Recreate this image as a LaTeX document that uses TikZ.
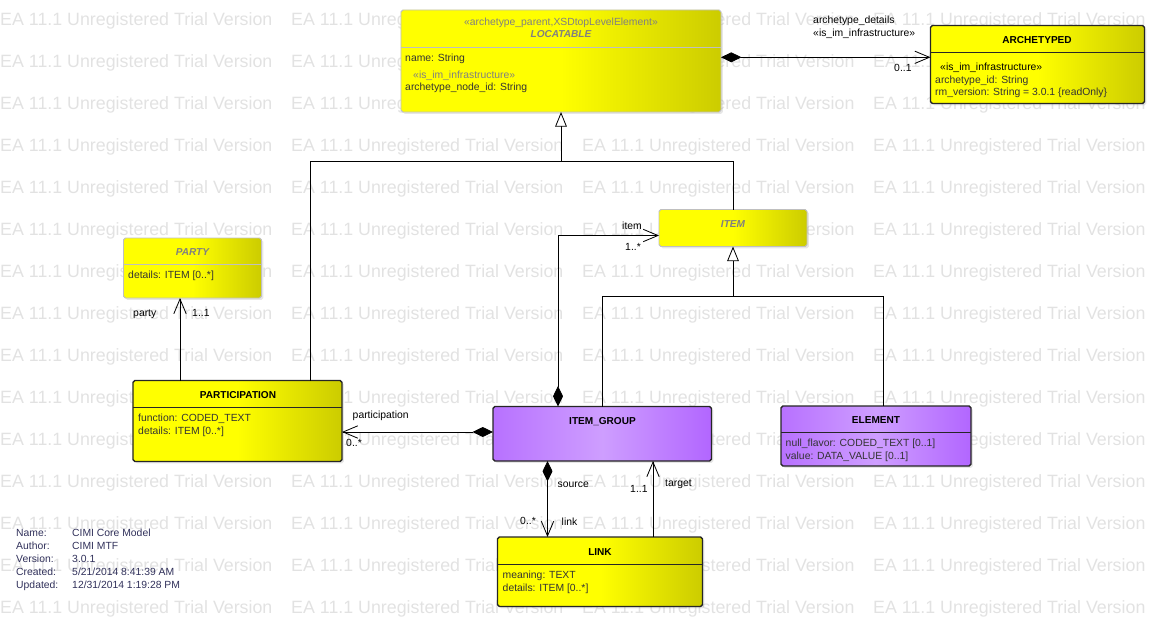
\documentclass[tikz,border=0pt]{standalone}
\usepackage{fontspec}
\setmainfont{Liberation Sans}
\usetikzlibrary{arrows.meta, shadows, calc}
\definecolor{eayellow}{RGB}{255,255,0}
\definecolor{eaolive}{RGB}{204,204,0}
\definecolor{eaviolet}{RGB}{206,158,255}
\definecolor{eavioletdark}{RGB}{178,102,255}
\definecolor{eagray}{RGB}{128,128,128}
\definecolor{eamark}{RGB}{226,226,226}
\definecolor{eanavy}{RGB}{48,48,90}
\newcommand{\umlfont}{\fontsize{8.85}{10}\selectfont}
\newcommand{\umltitlefont}{\fontsize{8.6}{10}\selectfont}
\newcommand{\markfont}{\fontsize{15.2}{18}\selectfont}

\tikzset{
  umlbox/.style={rectangle, inner sep=0pt, outer sep=0pt, rounded corners=1.6pt,
    drop shadow={shadow xshift=1.6pt, shadow yshift=-1.6pt, opacity=0.2}},
  yellowbox/.style={umlbox, left color=eayellow, right color=eaolive, middle color=eayellow},
  violetbox/.style={umlbox, left color=eavioletdark!80!eaviolet, right color=eavioletdark, middle color=eaviolet},
  concrete/.style={draw=black!85, line width=1.2pt},
  abstractc/.style={draw=black!25, line width=0.8pt},
  title/.style={anchor=base, inner sep=0pt, font=\umltitlefont\bfseries},
  abstitle/.style={anchor=base, inner sep=0pt, font=\umltitlefont\bfseries\itshape, text=eagray},
  stereo/.style={anchor=base, inner sep=0pt, font=\umlfont, text=eagray},
  attr/.style={anchor=base west, inner sep=0pt, font=\umlfont, text=black!80},
  lbl/.style={anchor=base west, inner sep=0pt, font=\umlfont},
  info/.style={anchor=base west, inner sep=0pt, font=\umlfont, text=eanavy},
  trialmark/.style={anchor=base west, inner sep=0pt, font=\markfont, text=eamark},
  divider/.style={draw=black!85, line width=0.7pt},
  absdivider/.style={draw=black!25, line width=0.7pt},
  plainline/.style={line width=0.7pt},
  compline/.style={plainline, {Diamond[length=17.5pt,width=8.5pt]}-{Straight Barb[length=12.5pt,width=10.5pt]}},
  assocline/.style={plainline, -{Straight Barb[length=12.5pt,width=10.5pt]}},
  genline/.style={plainline, -{Triangle[length=12.5pt,width=10pt,fill=white]}}
}

\begin{document}
\begin{tikzpicture}[x=0.03cm,y=-0.03cm]
    \useasboundingbox (0,0) rectangle (1155,618);

    % Filigrana
    \foreach \row in {0,...,14}
      \foreach \col in {0,...,3}
        \node[trialmark] at (\col*291, 25.7+\row*42) {EA 11.1 Unregistered Trial Version};

    % LOCATABLE
    \node[yellowbox,abstractc,minimum width=9.6cm,minimum height=3.06cm] (loc) at (561,61) {};
    \node[stereo] at (561,25.5) {«archetype\_parent,XSDtopLevelElement»};
    \node[abstitle] at (561,38) {LOCATABLE};
    \draw[absdivider] (loc.west |- 0,47) -- (loc.east |- 0,47);
    \node[attr] at (405,62) {name: String};
    \node[stereo,anchor=base west] at (413,78) {«is\_im\_infrastructure»};
    \node[attr] at (405,91) {archetype\_node\_id: String};

    % ARCHETYPED
    \node[yellowbox,concrete,minimum width=6.42cm,minimum height=2.34cm] (arch) at (1037.5,64.5) {};
    \node[title] at (1037,44) {ARCHETYPED};
    \draw[divider] (arch.west |- 0,52.3) -- (arch.east |- 0,52.3);
    \node[attr,text=black] at (940,70.5) {«is\_im\_infrastructure»};
    \node[attr] at (935,83) {archetype\_id: String};
    \node[attr] at (935,96) {rm\_version: String = 3.0.1 \{readOnly\}};

    % PARTY
    \node[yellowbox,abstractc,minimum width=4.14cm,minimum height=1.8cm] (party) at (192.5,268) {};
    \node[abstitle] at (192.5,255) {PARTY};
    \draw[absdivider] (party.west |- 0,264) -- (party.east |- 0,264);
    \node[attr] at (128,278) {details: ITEM [0..*]};

    % PARTICIPATION
    \node[yellowbox,concrete,minimum width=6.27cm,minimum height=2.43cm] (partic) at (237.5,421) {};
    \node[title] at (238,398.5) {PARTICIPATION};
    \draw[divider] (partic.west |- 0,407.3) -- (partic.east |- 0,407.3);
    \node[attr] at (138,421) {function: CODED\_TEXT};
    \node[attr] at (138,434) {details: ITEM [0..*]};

    % ITEM
    \node[yellowbox,abstractc,minimum width=4.44cm,minimum height=1.11cm] (item) at (733,228) {};
    \node[abstitle] at (733,227) {ITEM};

    % ITEM_GROUP
    \node[violetbox,concrete,minimum width=6.555cm,minimum height=1.635cm] (igroup) at (602.25,433.75) {};
    \node[title] at (602.5,424.3) {ITEM\_GROUP};

    % ELEMENT
    \node[violetbox,concrete,minimum width=5.7cm,minimum height=1.8cm] (elem) at (876,436) {};
    \node[title] at (876,423.3) {ELEMENT};
    \draw[divider] (elem.west |- 0,432) -- (elem.east |- 0,432);
    \node[attr] at (785.5,446.5) {null\_flavor: CODED\_TEXT [0..1]};
    \node[attr] at (785.5,459) {value: DATA\_VALUE [0..1]};

    % LINK
    \node[yellowbox,concrete,minimum width=6.15cm,minimum height=2.085cm] (link) at (600,571.75) {};
    \node[title] at (600,555.7) {LINK};
    \draw[divider] (link.west |- 0,564) -- (link.east |- 0,564);
    \node[attr] at (502.5,578.5) {meaning: TEXT};
    \node[attr] at (502.5,591) {details: ITEM [0..*]};

    % Generalizzazioni
    \coordinate (joinloc) at (561,161);
    \coordinate (colpartic) at (310,0);
    \draw[genline] (item.north) |- (joinloc) -- (loc.south);
    \draw[plainline] (partic.north -| colpartic) |- (joinloc);
    \coordinate (joinitem) at (733,296);
    \coordinate (colgroup) at (602.5,0);
    \coordinate (colelem) at (883,0);
    \draw[genline] (igroup.north -| colgroup) |- (joinitem) -- (item.south);
    \draw[plainline] (elem.north -| colelem) |- (joinitem);

    % Associazioni
    \coordinate (lvlarch) at (0,57.3);
    \draw[compline] (loc.east |- lvlarch) -- (arch.west |- lvlarch);
    \node[lbl] at (813,24) {archetype\_details};
    \node[lbl] at (813,37) {«is\_im\_infrastructure»};
    \node[lbl] at (894,71.5) {0..1};

    \coordinate (colparty) at (180,0);
    \draw[assocline] (partic.north -| colparty) -- (party.south -| colparty);
    \node[lbl] at (133,316) {party};
    \node[lbl] at (192,316.5) {1..1};

    \coordinate (lvlpart) at (0,432);
    \draw[compline] (igroup.west |- lvlpart) -- (partic.east |- lvlpart);
    \node[lbl] at (352.5,418) {participation};
    \node[lbl] at (346,446) {0..*};

    \coordinate (colitem) at (558,0);
    \coordinate (lvlitem) at (0,235.5);
    \draw[compline] (igroup.north -| colitem) |- (item.west |- lvlitem);
    \node[lbl] at (622,229.5) {item};
    \node[lbl] at (625,250) {1..*};

    \coordinate (colsource) at (547.5,0);
    \draw[compline] (igroup.south -| colsource) -- (link.north -| colsource);
    \node[lbl] at (557.5,487) {source};
    \node[lbl] at (520,524) {0..*};
    \node[lbl] at (561.5,525.5) {link};

    \coordinate (coltarget) at (653,0);
    \draw[assocline] (link.north -| coltarget) -- (igroup.south -| coltarget);
    \node[lbl] at (630,492.5) {1..1};
    \node[lbl] at (665,486.5) {target};

    % Dati del modello
    \node[info] at (16,536) {Name:};
    \node[info] at (72,536) {CIMI Core Model};
    \node[info] at (16,549) {Author:};
    \node[info] at (72,549) {CIMI MTF};
    \node[info] at (16,562) {Version:};
    \node[info] at (72,562) {3.0.1};
    \node[info] at (16,575) {Created:};
    \node[info] at (72,575) {5/21/2014 8:41:39 AM};
    \node[info] at (16,588) {Updated:};
    \node[info] at (72,588) {12/31/2014 1:19:28 PM};
\end{tikzpicture}
\end{document}
